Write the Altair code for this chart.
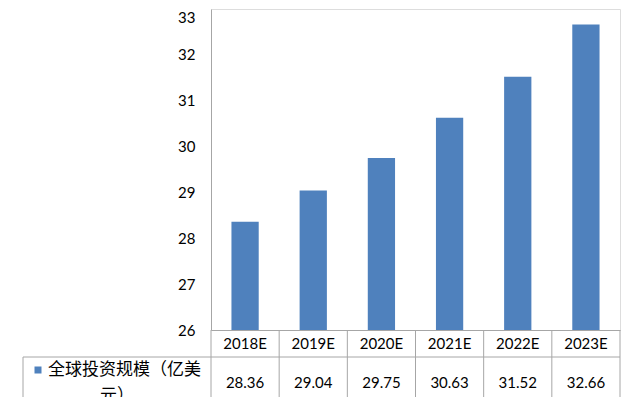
import altair as alt
import pandas as pd

categories = ["2018E", "2019E", "2020E", "2021E", "2022E", "2023E"]
values = [28.36, 29.04, 29.75, 30.63, 31.52, 32.66]
series_line1 = "全球投资规模（亿美"
series_line2 = "元）"
y_ticks = [26, 27, 28, 29, 30, 31, 32, 33]

BAR = "#4F81BD"
LINE = "#a6a6a6"
FONT = "Lato"
CJK = "Noto Sans CJK SC"
W, H = 409, 321
STEP = W / len(categories)

df = pd.DataFrame({"cat": categories, "val": values})
one = pd.DataFrame({"a": [0]})

xenc = alt.X("cat:N", sort=categories, title=None,
             scale=alt.Scale(paddingInner=0.6, paddingOuter=0.3),
             axis=alt.Axis(labels=False, ticks=False, domainColor=LINE))

base = alt.Chart(df)

bars = base.mark_bar(color=BAR).encode(
    x=xenc,
    y=alt.Y("val:Q", title=None,
            scale=alt.Scale(domain=[26, 33], zero=False, nice=False),
            axis=alt.Axis(values=y_ticks, grid=False, ticks=False, domainColor=LINE,
                          labelPadding=16, labelFont=FONT, labelFontSize=15,
                          labelColor="#000000",
                          labelOffset=alt.ExprRef("datum.value == 33 ? 8 : 0"))),
    y2=alt.datum(26),
)

vlines = base.mark_rule(color=LINE, xOffset=-STEP / 2).encode(
    x=alt.X("cat:N", sort=categories), y=alt.value(H), y2=alt.value(400))

cat_text = base.mark_text(font=FONT, fontSize=15, color="#000000").encode(
    x=alt.X("cat:N", sort=categories), y=alt.value(335), text="cat:N")

val_text = base.mark_text(font=FONT, fontSize=15, color="#000000").encode(
    x=alt.X("cat:N", sort=categories), y=alt.value(374),
    text=alt.Text("val:Q", format=".2f"))

oc = alt.Chart(one)
rline = oc.mark_rule(color=LINE).encode(
    x=alt.value(W), y=alt.value(H), y2=alt.value(400))
hline = oc.mark_rule(color=LINE).encode(
    x=alt.value(-188), x2=alt.value(W), y=alt.value(348))
vline = oc.mark_rule(color=LINE).encode(
    x=alt.value(-188), y=alt.value(348), y2=alt.value(400))
key = oc.mark_square(color=BAR, size=49, opacity=1).encode(
    x=alt.value(-173), y=alt.value(361))
lab1 = oc.mark_text(font=CJK, fontSize=17, align="left", color="#000000").encode(
    x=alt.value(-163), y=alt.value(361), text=alt.value(series_line1))
lab2 = oc.mark_text(font=CJK, fontSize=17, align="center", color="#000000").encode(
    x=alt.value(-94), y=alt.value(387), text=alt.value(series_line2))

chart = alt.layer(bars, vlines, cat_text, val_text, rline, hline, vline, key, lab1, lab2).properties(
    width=W, height=H,
    autosize=alt.AutoSizeParams(type="none"),
    padding={"left": 203, "top": 1, "right": 3, "bottom": 67},
).configure_view(stroke=None).configure(background="#ffffff")

chart.save("out.html", embed_options={"renderer": "svg", "actions": False})
